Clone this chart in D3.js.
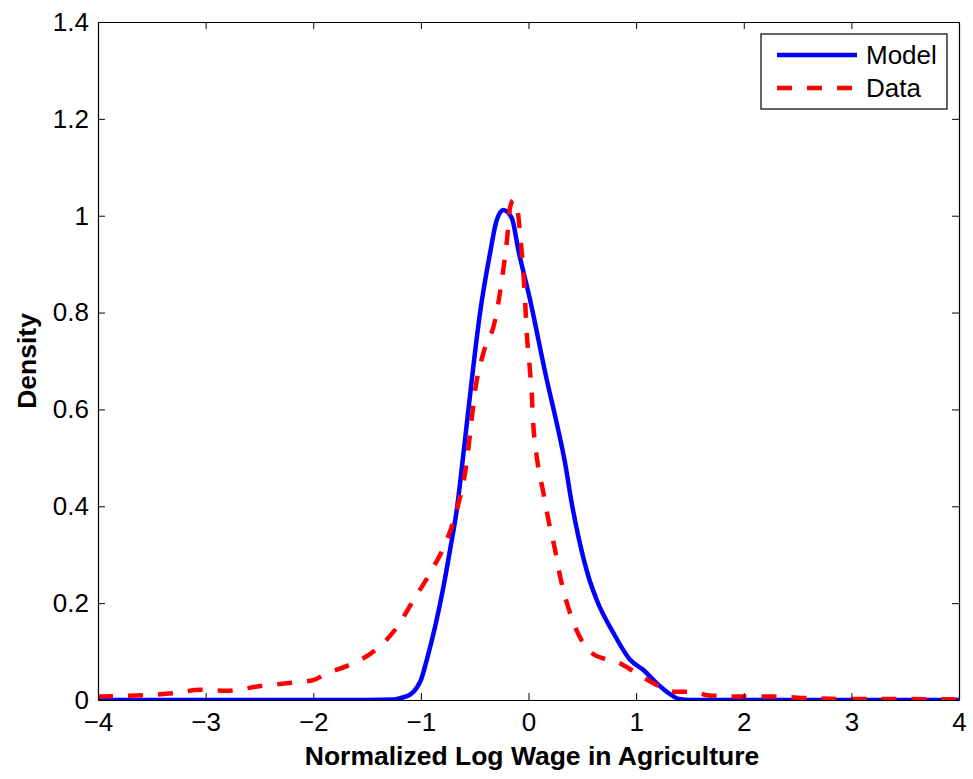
<!DOCTYPE html>
<html>
<head>
<meta charset="utf-8">
<script src="https://cdn.jsdelivr.net/npm/d3@7"></script>
<style>
  body { margin: 0; background: #fff; }
  text { font-family: "Liberation Sans", Arial, Helvetica, sans-serif; }
</style>
</head>
<body>
<svg id="chart" width="973" height="779"></svg>
<script>
// ---- data ----
const modelX = [-4, -1.5, -1.25, -1.19, -1.10, -1.04, -1.0, -0.945, -0.868, -0.79, -0.729, -0.667, -0.611, -0.527, -0.45, -0.357, -0.295, -0.233, -0.155, -0.094, 0.015, 0.17, 0.263, 0.34, 0.402, 0.464, 0.557, 0.635, 0.79, 0.944, 1.068, 1.19, 1.316, 1.40, 1.5, 4];
const modelY = [0, 0, 0.001, 0.004, 0.011, 0.025, 0.041, 0.083, 0.151, 0.234, 0.31, 0.392, 0.496, 0.661, 0.80, 0.923, 0.991, 1.012, 0.995, 0.929, 0.826, 0.661, 0.571, 0.489, 0.406, 0.337, 0.255, 0.206, 0.138, 0.083, 0.062, 0.035, 0.012, 0.002, 0, 0];

const dataX = [-4, -3.58, -3.30, -3.05, -2.80, -2.49, -2.18, -2.0, -1.875, -1.69, -1.44, -1.22, -1.07, -0.915, -0.76, -0.667, -0.59, -0.48, -0.42, -0.31, -0.248, -0.20, -0.17, -0.14, -0.11, -0.078, -0.032, -0.016, 0.008, 0.03, 0.046, 0.077, 0.139, 0.185, 0.247, 0.294, 0.387, 0.51, 0.60, 0.696, 0.82, 1.006, 1.19, 1.34, 1.53, 1.66, 1.97, 2.27, 2.59, 2.9, 3.5, 4];
const dataY = [0.007, 0.010, 0.014, 0.021, 0.019, 0.029, 0.036, 0.041, 0.055, 0.070, 0.10, 0.151, 0.206, 0.262, 0.33, 0.392, 0.468, 0.661, 0.716, 0.785, 0.867, 0.95, 1.018, 1.032, 1.022, 0.963, 0.826, 0.757, 0.695, 0.633, 0.564, 0.502, 0.427, 0.372, 0.31, 0.255, 0.179, 0.117, 0.095, 0.086, 0.079, 0.055, 0.031, 0.017, 0.017, 0.010, 0.007, 0.007, 0.004, 0.002, 0.002, 0.001];

const xTicks = [-4, -3, -2, -1, 0, 1, 2, 3, 4];
const yTicks = [0, 0.2, 0.4, 0.6, 0.8, 1, 1.2, 1.4];
const seriesNames = ["Model", "Data"];
const xLabel = "Normalized Log Wage in Agriculture";
const yLabel = "Density";

// ---- layout ----
const L = 98, R = 959, T = 22, B = 700;
const svg = d3.select("#chart");
const x = d3.scaleLinear().domain([-4, 4]).range([L, R]);
const y = d3.scaleLinear().domain([0, 1.4]).range([B, T]);
const fs = 26, fsLab = 26.5;
const fmt = v => (v < 0 ? "\u2212" + Math.abs(v) : String(v));

svg.append("defs").append("clipPath").attr("id", "clip")
  .append("rect").attr("x", L).attr("y", T - 3).attr("width", R - L).attr("height", B - T + 3);

// curves
const model = modelX.map((v, i) => [v, modelY[i]]);
const data = dataX.map((v, i) => [v, dataY[i]]);
const line = d3.line().x(d => x(d[0])).y(d => y(d[1])).curve(d3.curveMonotoneX);

const g = svg.append("g").attr("clip-path", "url(#clip)");
g.append("path").attr("d", line(model)).attr("fill", "none")
  .attr("stroke", "#0000ff").attr("stroke-width", 4.5).attr("stroke-linejoin", "round");
g.append("path").attr("d", line(data)).attr("fill", "none")
  .attr("stroke", "#ff0000").attr("stroke-width", 4.5).attr("stroke-dasharray", "15,15");

// axes
const tickLen = 7;
const axB = d3.axisBottom(x).tickValues(xTicks).tickSizeInner(-tickLen).tickSizeOuter(0).tickPadding(13).tickFormat(fmt);
const axT = d3.axisTop(x).tickValues(xTicks).tickSizeInner(-tickLen).tickSizeOuter(0).tickFormat("");
const axL = d3.axisLeft(y).tickValues(yTicks).tickSizeInner(-tickLen).tickSizeOuter(0).tickPadding(9).tickFormat(d => d3.format("")(d));
const axR = d3.axisRight(y).tickValues(yTicks).tickSizeInner(-tickLen).tickSizeOuter(0).tickFormat("");

function style(sel) {
  sel.select(".domain").attr("stroke", "#000").attr("stroke-width", 1.2);
  sel.selectAll(".tick line").attr("stroke", "#000").attr("stroke-width", 1);
  sel.selectAll(".tick text").attr("fill", "#000").style("font-size", fs + "px")
    .style("font-family", '"Liberation Sans", Arial, sans-serif');
}
svg.append("g").attr("transform", `translate(0,${B})`).call(axB).call(style);
svg.append("g").attr("transform", `translate(0,${T})`).call(axT).call(style);
svg.append("g").attr("transform", `translate(${L},0)`).call(axL).call(style);
svg.append("g").attr("transform", `translate(${R},0)`).call(axR).call(style);

// axis labels
svg.append("text").attr("x", 532).attr("y", 765).attr("text-anchor", "middle")
  .style("font-size", fsLab + "px").style("font-weight", "bold").text(xLabel);
svg.append("text").attr("transform", `translate(36,${(T + B) / 2}) rotate(-90)`).attr("text-anchor", "middle")
  .style("font-size", fsLab + "px").style("font-weight", "bold").text(yLabel);

// legend
const lg = svg.append("g");
lg.append("rect").attr("x", 761).attr("y", 34).attr("width", 186).attr("height", 75)
  .attr("fill", "#fff").attr("stroke", "#000").attr("stroke-width", 1.2);
const colors = ["#0000ff", "#ff0000"];
const dashes = [null, "15,15"];
const rowY = [55, 88];
seriesNames.forEach((n, i) => {
  lg.append("line").attr("x1", 777).attr("x2", 857).attr("y1", rowY[i]).attr("y2", rowY[i])
    .attr("stroke", colors[i]).attr("stroke-width", 4.5).attr("stroke-dasharray", dashes[i]);
  lg.append("text").attr("x", 866).attr("y", rowY[i]).attr("dy", "0.35em")
    .style("font-size", fs + "px").text(n);
});
</script>
</body>
</html>
